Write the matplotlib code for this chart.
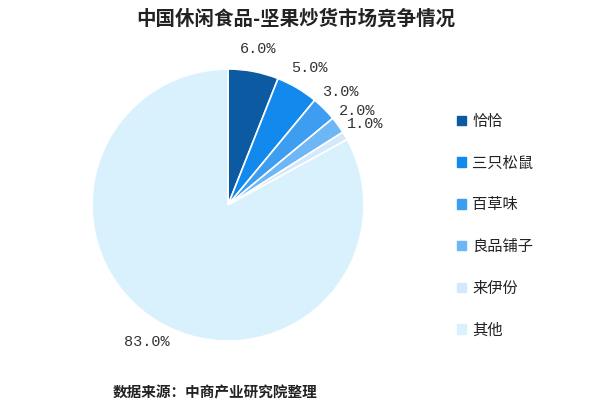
import matplotlib
matplotlib.use("Agg")
import matplotlib.pyplot as plt

plt.rcParams['font.family'] = ['Noto Sans CJK SC', 'DejaVu Sans']

# data
brands = ['恰恰', '三只松鼠', '百草味', '良品铺子', '来伊份', '其他']
shares = [6.0, 5.0, 3.0, 2.0, 1.0, 83.0]
colors = ['#0b5aa2', '#1289ec', '#3d9df0', '#6db7f6', '#d3e9fb', '#d9f1fd']

title = '中国休闲食品-坚果炒货市场竞争情况'
source = '数据来源：中商产业研究院整理'

fig = plt.figure(figsize=(6, 4.19), dpi=100)
# pie centre ~ (228, 205) px, radius ~136 px
ax = fig.add_axes([228/600 - 136/600, 1 - (205 + 136)/419, 272/600, 272/419])

wedges, texts = ax.pie(shares, colors=colors, startangle=90, counterclock=False,
                       wedgeprops={'edgecolor': 'white', 'linewidth': 1.2},
                       labels=['%.1f%%' % s for s in shares], labeldistance=1.17,
                       textprops={'fontsize': 11, 'color': '#333333',
                                  'family': ['Liberation Mono', 'DejaVu Sans']})
for t in texts:
    t.set_horizontalalignment('center')
    t.set_verticalalignment('center')
    t.set_clip_on(False)
ax.set_xlim(-1, 1)
ax.set_ylim(-1, 1)
ax.set_aspect('equal')

handles = [plt.Rectangle((0, 0), 1, 1, color=c) for c in colors]
fig.legend(handles, brands, loc='upper left', bbox_to_anchor=(443/600, 1 - 99/419),
           frameon=False, fontsize=11, handlelength=0.6, handleheight=0.6,
           handletextpad=0.4, labelspacing=1.62, labelcolor='#222222')

fig.text(296/600, 1 - 19/419, title, ha='center', va='center',
         fontsize=14, fontweight='bold', color='#222222')
fig.text(113/600, 1 - 392/419, source, ha='left', va='center',
         fontsize=10.5, fontweight='bold', color='#222222')

fig.savefig('out.png', dpi=100, facecolor='white')
